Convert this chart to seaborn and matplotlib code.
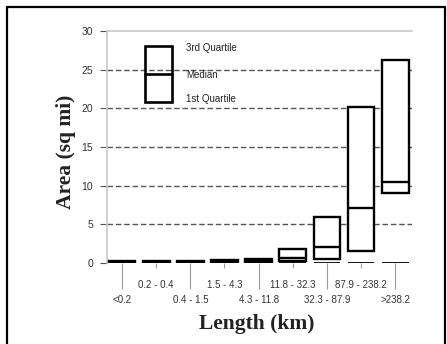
import numpy as np
import pandas as pd
import matplotlib
matplotlib.use("Agg")
import matplotlib.pyplot as plt
from matplotlib.patches import Rectangle
from matplotlib.lines import Line2D
import seaborn as sns

# Length classes and the area quartiles for each class (sq mi)
categories = ["<0.2", "0.2 - 0.4", "0.4 - 1.5", "1.5 - 4.3", "4.3 - 11.8",
              "11.8 - 32.3", "32.3 - 87.9", "87.9 - 238.2", ">238.2"]
q1 = [0.0, 0.0, 0.0, 0.01, 0.05, 0.25, 0.55, 1.55, 9.1]
median = [0.12, 0.12, 0.13, 0.15, 0.25, 0.6, 2.1, 7.1, 10.5]
q3 = [0.32, 0.3, 0.32, 0.36, 0.5, 1.75, 5.9, 20.2, 26.2]
minimum = [0, 0, 0, 0, 0, 0, 0, 0, 0]
y_ticks = [0, 5, 10, 15, 20, 25, 30]

# Five values per class whose quartiles are exactly q1 / median / q3
rows = []
for c, a, m, b in zip(categories, q1, median, q3):
    for v in (a, a, m, b, b):
        rows.append({"Length": c, "Area": v})
df = pd.DataFrame(rows)

sns.set_style("white")
plt.rcParams["font.family"] = ["Liberation Sans", "DejaVu Sans"]

fig = plt.figure(figsize=(4.47, 3.44), dpi=100)
ax = fig.add_axes([107 / 447, 1 - 263 / 344, 305 / 447, 232 / 344])

sns.boxplot(data=df, x="Length", y="Area", order=categories, ax=ax,
            width=0.78, whis=0, showfliers=False, showcaps=False,
            color="white", linecolor="black", linewidth=1.7,
            medianprops={"color": "black", "linewidth": 1.7}, zorder=3)

# Minimum markers along the base
ax.hlines(minimum, np.arange(len(categories)) - 0.39,
          np.arange(len(categories)) + 0.39, color="black", lw=1.3, zorder=2)

ax.set_xlim(-0.44, 8.49)
ax.set_ylim(0, 30)
ax.set_yticks(y_ticks)
ax.set_yticklabels([str(t) for t in y_ticks], fontsize=7.5, color="#333333")

# Dashed horizontal gridlines
for t in y_ticks[1:-1]:
    ax.axhline(t, color="#555555", lw=1.0, ls=(0, (4, 2)), zorder=1)

# Two-row category labels: long ticks for the lower row, short for the upper
lower = list(range(0, len(categories), 2))
upper = list(range(1, len(categories), 2))
ax.set_xticks(lower)
ax.set_xticklabels([categories[i] for i in lower], fontsize=7, color="#333333")
ax.set_xticks(upper, minor=True)
ax.set_xticklabels([categories[i] for i in upper], minor=True,
                   fontsize=7, color="#333333")
ax.tick_params(axis="x", which="major", length=19, width=0.8,
               color="#9a9a9a", pad=4, bottom=True)
ax.tick_params(axis="x", which="minor", length=3.5, width=0.8,
               color="#9a9a9a", pad=9, bottom=True)
ax.tick_params(axis="y", length=5, width=0.8, color="#555555", pad=5, left=True)

ax.set_xlabel("")
ax.set_ylabel("")
for side in ("right", "bottom"):
    ax.spines[side].set_visible(False)
for side in ("left", "top"):
    ax.spines[side].set_color("#c8c8c8")
    ax.spines[side].set_linewidth(1.2)

# Key explaining the box parts
ax.add_patch(Rectangle((0.68, 20.8), 0.78, 7.3, fill=False, ec="black",
                       lw=1.9, zorder=4))
ax.plot([0.68, 1.46], [24.4, 24.4], color="black", lw=1.9, zorder=4)
for y, s in ((27.8, "3rd Quartile"), (24.3, "Median"), (21.2, "1st Quartile")):
    ax.text(1.87, y, s, fontsize=7, va="center", ha="left", color="#222222",
            zorder=5)

# Axis titles
serif = ["Liberation Serif", "DejaVu Serif"]
fig.text(66 / 447, 1 - 152 / 344, "Area (sq mi)", rotation=90, fontsize=15.5,
         fontweight="bold", family=serif, ha="center", va="center",
         color="#222222")
fig.text(257 / 447, 1 - 324 / 344, "Length (km)", fontsize=15.5,
         fontweight="bold", family=serif, ha="center", va="center",
         color="#222222")

# Outer frame (left, top, right edges)
for xs, ys in (([6.5, 6.5], [0, 337.5]), ([6.5, 445], [337.5, 337.5]),
               ([445, 445], [0, 337.5])):
    fig.add_artist(Line2D([x / 447 for x in xs], [y / 344 for y in ys],
                          color="black", lw=1.6))

fig.savefig("out.png", dpi=100)
